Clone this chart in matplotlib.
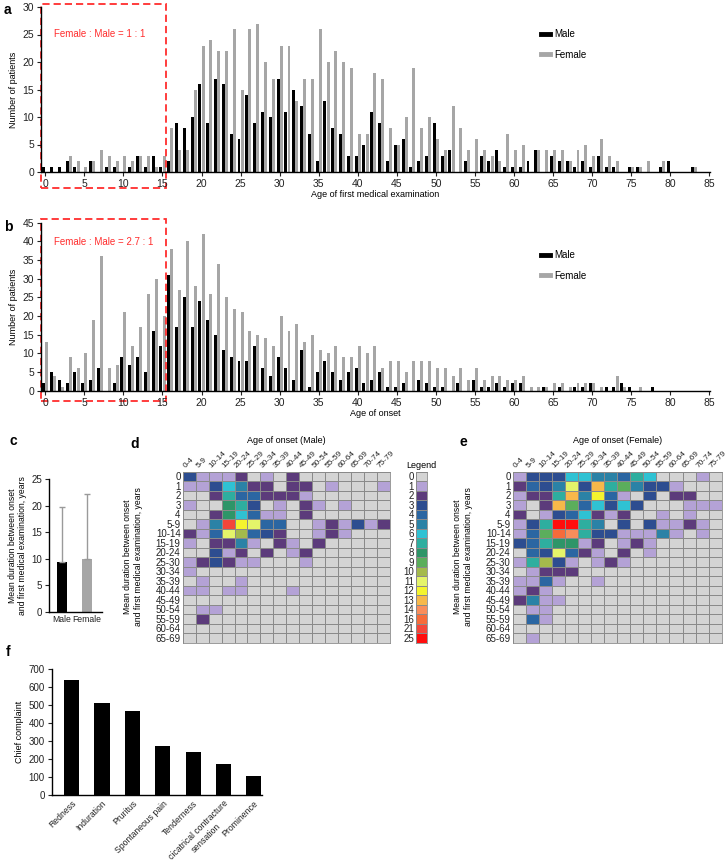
import numpy as np
import matplotlib
matplotlib.use("Agg")
import matplotlib.pyplot as plt
import matplotlib.transforms as mtransforms
from matplotlib.colors import ListedColormap
from matplotlib.lines import Line2D
from matplotlib.patches import Rectangle

plt.rcParams['font.family'] = ['Liberation Sans', 'DejaVu Sans']

# ---------------- data ----------------
ages = np.arange(0, 86)

male_exam = [1, 1, 1, 2, 1, 0, 2, 0, 1, 1, 0, 1, 3, 1, 3, 1, 2, 9, 8, 10,
             16, 9, 17, 16, 7, 6, 14, 9, 11, 10, 17, 11, 15, 12, 7, 2, 13, 8, 7, 3,
             3, 5, 11, 9, 2, 5, 6, 1, 2, 3, 9, 3, 4, 0, 2, 0, 3, 2, 4, 1,
             1, 1, 2, 4, 0, 3, 2, 2, 1, 2, 1, 3, 1, 1, 0, 1, 1, 0, 0, 1,
             2, 0, 0, 1, 0, 0]
female_exam = [0, 0, 0, 3, 2, 1, 2, 4, 3, 2, 3, 2, 3, 3, 1, 3, 8, 4, 4, 15,
               23, 24, 22, 22, 26, 15, 26, 27, 20, 17, 23, 23, 13, 17, 17, 26, 20, 22, 20, 19,
               7, 7, 18, 17, 8, 5, 10, 19, 8, 10, 6, 4, 12, 8, 4, 6, 4, 3, 2, 7,
               4, 5, 0, 4, 4, 4, 4, 2, 4, 5, 3, 6, 3, 2, 0, 1, 1, 2, 0, 2,
               0, 0, 0, 1, 0, 0]

male_onset = [2, 5, 3, 2, 5, 2, 3, 6, 0, 2, 9, 7, 9, 5, 16, 12, 31, 17, 25, 17,
              24, 19, 15, 11, 9, 8, 8, 12, 6, 4, 9, 6, 3, 11, 1, 5, 8, 5, 3, 5,
              6, 2, 3, 5, 1, 1, 2, 0, 3, 2, 1, 1, 0, 2, 0, 3, 1, 1, 2, 1,
              2, 2, 0, 0, 1, 0, 1, 0, 1, 1, 2, 0, 1, 1, 2, 1, 0, 0, 1, 0,
              0, 0, 0, 0, 0, 0]
female_onset = [13, 4, 1, 9, 6, 10, 19, 36, 6, 7, 21, 12, 17, 26, 30, 20, 38, 27, 40, 28,
                42, 26, 34, 25, 22, 21, 16, 15, 14, 12, 20, 16, 18, 13, 15, 11, 10, 12, 9, 9,
                12, 10, 12, 6, 8, 8, 5, 8, 8, 8, 6, 6, 4, 6, 3, 6, 3, 4, 4, 3,
                3, 4, 1, 1, 1, 2, 2, 1, 2, 2, 2, 1, 0, 4, 1, 0, 1, 0, 0, 0,
                0, 0, 0, 0, 0, 0]

sexes = ['Male', 'Female']
duration_mean = [9.4, 10.0]
duration_sd = [10.4, 12.2]

onset_groups = ['0-4', '5-9', '10-14', '15-19', '20-24', '25-29', '30-34', '35-39',
                '40-44', '45-49', '50-54', '55-59', '60-64', '65-69', '70-74', '75-79']
duration_groups = ['0', '1', '2', '3', '4', '5-9', '10-14', '15-19', '20-24', '25-30',
                   '30-34', '35-39', '40-44', '45-49', '50-54', '55-59', '60-64', '65-69']
levels = [0, 1, 2, 3, 4, 5, 6, 7, 8, 9, 10, 11, 12, 13, 14, 16, 21, 25]
level_colors = ['#d4d4d4', '#b4a2d6', '#5c3b7b', '#2d4d90', '#2b66a2', '#2b82a6',
                '#2fc2d3', '#2eae9f', '#2e9568', '#5bae5c', '#a4ba4c', '#e4f46a',
                '#f4f42e', '#f7b84a', '#f98d5b', '#f66b3a', '#f4463a', '#ff0d0d']

heat_male = [
    [3, 1, 1, 1, 2, 0, 1, 0, 2, 0, 0, 0, 0, 0, 0, 0],
    [1, 1, 3, 6, 5, 2, 2, 0, 2, 2, 0, 1, 0, 0, 0, 1],
    [0, 0, 2, 7, 4, 4, 2, 2, 2, 1, 0, 0, 0, 0, 0, 0],
    [1, 0, 0, 8, 7, 3, 0, 1, 0, 2, 1, 0, 1, 0, 0, 0],
    [0, 0, 2, 8, 6, 4, 1, 1, 0, 2, 0, 0, 0, 0, 0, 0],
    [0, 1, 5, 21, 12, 11, 4, 4, 0, 0, 1, 2, 1, 3, 1, 2],
    [2, 1, 4, 11, 10, 4, 3, 2, 0, 0, 1, 2, 1, 0, 0, 0],
    [1, 0, 2, 2, 5, 1, 0, 2, 1, 0, 2, 0, 0, 0, 0, 0],
    [0, 0, 3, 1, 2, 0, 2, 0, 1, 2, 0, 0, 0, 0, 0, 0],
    [1, 2, 3, 2, 1, 1, 0, 0, 0, 1, 0, 0, 0, 0, 0, 0],
    [1, 0, 0, 0, 0, 0, 0, 0, 0, 0, 0, 0, 0, 0, 0, 0],
    [0, 1, 0, 0, 1, 0, 0, 0, 0, 0, 0, 0, 0, 0, 0, 0],
    [1, 1, 0, 1, 1, 0, 0, 0, 1, 0, 0, 0, 0, 0, 0, 0],
    [0, 0, 0, 0, 0, 0, 0, 0, 0, 0, 0, 0, 0, 0, 0, 0],
    [0, 1, 1, 0, 0, 0, 0, 0, 0, 0, 0, 0, 0, 0, 0, 0],
    [0, 2, 0, 0, 0, 0, 0, 0, 0, 0, 0, 0, 0, 0, 0, 0],
    [0, 0, 0, 0, 0, 0, 0, 0, 0, 0, 0, 0, 0, 0, 0, 0],
    [0, 0, 0, 0, 0, 0, 0, 0, 0, 0, 0, 0, 0, 0, 0, 0],
]
heat_female = [
    [1, 3, 3, 3, 6, 6, 5, 5, 4, 7, 6, 0, 0, 0, 1, 0],
    [2, 4, 3, 5, 11, 3, 13, 7, 9, 5, 3, 3, 1, 0, 0, 0],
    [1, 2, 2, 7, 13, 5, 12, 4, 1, 0, 3, 0, 2, 2, 0, 0],
    [1, 0, 2, 13, 9, 4, 6, 3, 6, 3, 0, 0, 0, 1, 1, 1],
    [2, 0, 1, 3, 4, 6, 2, 1, 2, 0, 0, 1, 0, 1, 0, 0],
    [1, 3, 7, 25, 25, 7, 5, 0, 3, 0, 3, 1, 1, 2, 1, 0],
    [1, 4, 9, 16, 14, 7, 3, 3, 1, 1, 1, 5, 1, 0, 1, 0],
    [3, 4, 7, 8, 8, 1, 2, 0, 1, 2, 1, 0, 0, 0, 0, 0],
    [0, 4, 3, 11, 4, 2, 1, 0, 2, 0, 1, 0, 0, 0, 0, 0],
    [1, 7, 10, 3, 1, 0, 1, 2, 1, 0, 0, 0, 0, 0, 0, 0],
    [0, 1, 2, 2, 2, 0, 0, 0, 0, 0, 0, 0, 0, 0, 0, 0],
    [1, 1, 4, 1, 0, 0, 1, 0, 0, 0, 0, 0, 0, 0, 0, 0],
    [1, 2, 1, 0, 0, 0, 0, 0, 0, 0, 0, 0, 0, 0, 0, 0],
    [2, 5, 1, 1, 0, 0, 0, 0, 0, 0, 0, 0, 0, 0, 0, 0],
    [0, 1, 1, 0, 0, 0, 0, 0, 0, 0, 0, 0, 0, 0, 0, 0],
    [0, 4, 1, 0, 0, 0, 0, 0, 0, 0, 0, 0, 0, 0, 0, 0],
    [0, 0, 0, 0, 0, 0, 0, 0, 0, 0, 0, 0, 0, 0, 0, 0],
    [0, 1, 0, 0, 0, 0, 0, 0, 0, 0, 0, 0, 0, 0, 0, 0],
]

complaints = ['Redness', 'Induration', 'Pruritus', 'Spontaneous pain', 'Tenderness',
              'cicatrical contracture\nsensation', 'Prominence']
complaint_counts = [640, 510, 465, 270, 240, 170, 105]

# ---------------- layout helpers ----------------
W, H = 728, 868
fig = plt.figure(figsize=(W / 100, H / 100), dpi=100)

def px_axes(x0, y0, x1, y1):
    return fig.add_axes([x0 / W, 1 - y1 / H, (x1 - x0) / W, (y1 - y0) / H])

def style_axes(ax, fs=7):
    for s in ['top', 'right']:
        ax.spines[s].set_visible(False)
    for s in ['left', 'bottom']:
        ax.spines[s].set_linewidth(1.0)
    ax.tick_params(labelsize=fs, length=3, width=0.8, colors='#222222', pad=2)

male_c = 'black'
female_c = '#a6a6a6'
red = '#ff2d2d'

def age_histogram(ax, male, female, ymax, ystep, xlabel, ratio_text, text_y, box_bottom, leg_y):
    w = 0.38
    ax.bar(ages - 0.2, male, width=w, color=male_c, label='Male')
    ax.bar(ages + 0.2, female, width=w, color=female_c, label='Female')
    ax.set_xlim(-0.55, 85.1)
    ax.set_ylim(0, ymax)
    ax.set_xticks(np.arange(0, 86, 5))
    ax.set_yticks(np.arange(0, ymax + 1, ystep))
    style_axes(ax, 7.5)
    ax.set_xlabel(xlabel, fontsize=6.5, labelpad=1)
    ax.set_ylabel('Number of patients', fontsize=6.5, labelpad=3)
    tr = mtransforms.blended_transform_factory(ax.transData, ax.transAxes)
    ax.add_patch(Rectangle((-0.55, box_bottom), 16.05, 1.02 - box_bottom, transform=tr,
                           fill=False, edgecolor=red, lw=1.3, ls=(0, (4, 2.2)), clip_on=False))
    ax.text(1.1, text_y, ratio_text, transform=tr, color=red, fontsize=7, va='center')
    handles = [Line2D([], [], color=male_c, lw=3.5), Line2D([], [], color=female_c, lw=3.5)]
    ax.legend(handles, ['Male', 'Female'], loc='upper left', bbox_to_anchor=(0.735, leg_y),
              frameon=False, fontsize=7, handlelength=0.9, handletextpad=0.4,
              labelspacing=1.1)

# ---------------- panel a ----------------
ax_a = px_axes(41, 7, 710, 172)
age_histogram(ax_a, male_exam, female_exam, 30, 5, 'Age of first medical examination',
              'Female : Male = 1 : 1', 0.835, -0.097, 0.92)

# ---------------- panel b ----------------
ax_b = px_axes(41, 222.7, 710, 390.7)
age_histogram(ax_b, male_onset, female_onset, 45, 5, 'Age of onset',
              'Female : Male = 2.7 : 1', 0.885, -0.06, 0.89)

# ---------------- panel c ----------------
ax_c = px_axes(49, 479, 102, 612)
c_pos = [0, 1.2]
ax_c.bar(c_pos, duration_mean, width=0.46, color=[male_c, female_c])
ax_c.errorbar(c_pos, duration_mean, yerr=[[0, 0], duration_sd], fmt='none',
              ecolor='#9a9a9a', elinewidth=1.0, capsize=2.5, capthick=1.0)
ax_c.set_xlim(-0.6, 1.9)
ax_c.set_ylim(0, 25)
ax_c.set_yticks(np.arange(0, 26, 5))
ax_c.set_xticks(c_pos)
ax_c.set_xticklabels(sexes)
style_axes(ax_c, 7)
ax_c.tick_params(axis='x', length=0, labelsize=6.2)
ax_c.set_ylabel('Mean duration between onset\nand first medical examination, years',
                fontsize=6.2, labelpad=3)

# ---------------- panels d / e ----------------
cmap = ListedColormap(level_colors)

def heatmap(ax, data, title):
    idx = np.searchsorted(levels, np.array(data))
    ax.pcolormesh(idx, cmap=cmap, vmin=-0.5, vmax=len(levels) - 0.5,
                  edgecolors='#8a8a8a', linewidth=0.6)
    ax.set_xlim(0, len(onset_groups))
    ax.set_ylim(len(duration_groups), 0)
    ax.set_xticks(np.arange(len(onset_groups)) + 0.3)
    ax.set_xticklabels(onset_groups, rotation=45, ha='left', rotation_mode='anchor', fontsize=5.9)
    ax.set_yticks(np.arange(len(duration_groups)) + 0.5)
    ax.set_yticklabels(duration_groups, fontsize=7)
    ax.xaxis.tick_top()
    ax.tick_params(length=0, pad=1.5, colors='#222222')
    for s in ax.spines.values():
        s.set_linewidth(0.6)
        s.set_color('#8a8a8a')
    ax.set_title(title, fontsize=6.5, pad=21)

ax_d = px_axes(182.7, 471.7, 390, 642.7)
heatmap(ax_d, heat_male, 'Age of onset (Male)')
ax_e = px_axes(512.7, 471.7, 721.7, 642.7)
heatmap(ax_e, heat_female, 'Age of onset (Female)')

ylab = 'Mean duration between onset\nand first medical examination, years'
fig.text(133 / W, 1 - 557 / H, ylab, rotation=90, fontsize=6.2, ha='center', va='center',
         multialignment='center')
fig.text(463 / W, 1 - 557 / H, ylab, rotation=90, fontsize=6.2, ha='center', va='center',
         multialignment='center')

# legend strip
ax_l = px_axes(416, 471.7, 426.7, 642.7)
ax_l.pcolormesh(np.arange(len(levels)).reshape(-1, 1), cmap=cmap, vmin=-0.5,
                vmax=len(levels) - 0.5, edgecolors='#8a8a8a', linewidth=0.6)
ax_l.set_ylim(len(levels), 0)
ax_l.set_xticks([])
ax_l.set_yticks(np.arange(len(levels)) + 0.5)
ax_l.set_yticklabels([str(v) for v in levels], fontsize=7)
ax_l.tick_params(length=0, pad=1.5, colors='#222222')
for s in ax_l.spines.values():
    s.set_linewidth(0.6)
    s.set_color('#8a8a8a')
ax_l.set_title('Legend', fontsize=6.5, pad=3)

# ---------------- panel f ----------------
ax_f = px_axes(51.7, 669, 261.7, 794.7)
ax_f.bar(np.arange(len(complaints)), complaint_counts, width=0.5, color='black')
ax_f.set_xlim(-0.66, 6.26)
ax_f.set_ylim(0, 700)
ax_f.set_yticks(np.arange(0, 701, 100))
ax_f.set_xticks(np.arange(len(complaints)))
ax_f.set_xticklabels(complaints, rotation=45, ha='right', rotation_mode='anchor',
                     multialignment='center')
style_axes(ax_f, 7)
ax_f.tick_params(axis='x', length=0, labelsize=6.2, pad=3)
ax_f.set_ylabel('Chief complaint', fontsize=6.5, labelpad=3)

# ---------------- panel letters ----------------
for letter, (x, y) in {'a': (4, 10), 'b': (4, 227), 'c': (10, 441), 'd': (130, 444),
                       'e': (459, 442), 'f': (6, 652)}.items():
    fig.text(x / W, 1 - y / H, letter, fontsize=10, fontweight='bold', va='center')

fig.savefig('out.png', dpi=100)
